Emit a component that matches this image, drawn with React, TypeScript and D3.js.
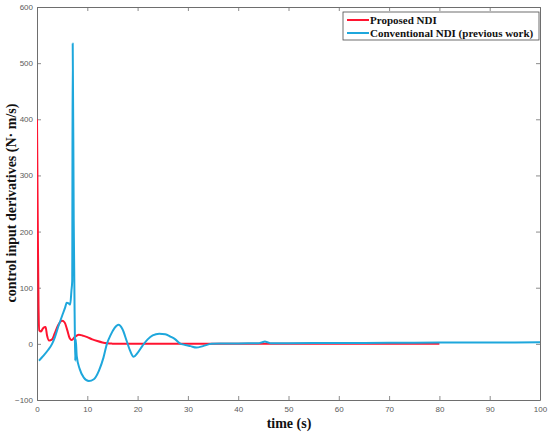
import * as d3 from "d3";
import { useEffect, useRef } from "react";

// time (s), value (N·m/s)
const proposedT = [0, 0.15, 0.3, 0.45, 0.8, 1.2, 1.7, 2.0, 2.4, 3.0, 3.5, 4.2, 5.0, 5.5, 6.0, 6.5, 6.9, 7.5, 8.3, 9.0, 10, 11, 12, 13, 14, 15, 16, 20, 30, 40, 50, 60, 70, 80];
const proposedV = [400, 220, 70, 24, 22, 28, 30, 15, 6, 8, 18, 33, 41, 38, 25, 10, 7, 12, 16, 15, 12, 8, 5, 2.5, 1, 0.4, 0.1, 0, 0, 0, 0, 0, 0, 0.2];

const conventionalT = [0.4, 1.2, 2.2, 3.0, 3.6, 4.2, 5.0, 5.6, 5.9, 6.3, 6.6, 6.85, 7.0, 7.1, 7.3, 7.5, 7.6, 7.7, 7.9, 8.5, 9.3, 10.3, 11.3, 12.3, 13.2, 13.9, 14.6, 15.4, 16.2, 17.0, 17.8, 18.5, 19.2, 20.0, 21.0, 22.0, 23.0, 24.3, 25.5, 26.5, 27.5, 28.4, 29.5, 30.5, 31.7, 33.0, 34.7, 37, 40, 44, 44.8, 45.3, 45.8, 46.5, 50, 60, 70, 80, 90, 100];
const conventionalV = [-30, -22, -11, 0, 13, 30, 50, 65, 73, 72, 70, 95, 112, 535, 220, 40, -30, 8, -22, -45, -60, -66, -63, -48, -25, 0, 15, 28, 34, 26, 6, -12, -23, -16, -3, 8, 15, 18, 17, 13, 8, 1, -2, -4, -6.5, -4, 0, 0.5, 0.8, 1, 3, 4, 3, 1.2, 1.3, 1.6, 1.9, 2.2, 2.5, 2.7];

const xTicks = [0, 10, 20, 30, 40, 50, 60, 70, 80, 90, 100];
const yTicks = [-100, 0, 100, 200, 300, 400, 500, 600];

const legendLabels = ["Proposed NDI", "Conventional NDI (previous work)"];
const lineColors = ["#ff1430", "#1ea7dc"];

const W = 550;
const H = 434;
const margin = { top: 7, right: 10, bottom: 34, left: 37 };

export default function App() {
	const ref = useRef<SVGSVGElement | null>(null);

	useEffect(() => {
		if (!ref.current) return;
		const svg = d3.select(ref.current);
		svg.selectAll("*").remove();

		const x = d3.scaleLinear().domain([0, 100]).range([margin.left, W - margin.right]);
		const y = d3.scaleLinear().domain([-100, 600]).range([H - margin.bottom, margin.top]);
		const x0 = margin.left;
		const x1 = W - margin.right;
		const y0 = H - margin.bottom;
		const y1 = margin.top;

		svg.append("rect").attr("x", 0).attr("y", 0).attr("width", W).attr("height", H).attr("fill", "white");

		const axisColor = "#6e6e6e";
		const tickFont = "Liberation Sans, Arial, sans-serif";

		// bottom & top axes (ticks inward)
		const gx = svg.append("g").attr("transform", `translate(0,${y0})`)
			.call(d3.axisBottom(x).tickValues(xTicks).tickSizeInner(-4).tickSizeOuter(0).tickPadding(6));
		const gxTop = svg.append("g").attr("transform", `translate(0,${y1})`)
			.call(d3.axisTop(x).tickValues(xTicks).tickSizeInner(-4).tickSizeOuter(0).tickFormat(() => ""));
		const gy = svg.append("g").attr("transform", `translate(${x0},0)`)
			.call(d3.axisLeft(y).tickValues(yTicks).tickSizeInner(-4).tickSizeOuter(0).tickPadding(4));
		const gyRight = svg.append("g").attr("transform", `translate(${x1},0)`)
			.call(d3.axisRight(y).tickValues(yTicks).tickSizeInner(-4).tickSizeOuter(0).tickFormat(() => ""));

		[gx, gxTop, gy, gyRight].forEach((g) => {
			g.select(".domain").attr("stroke", axisColor).attr("stroke-width", 1);
			g.selectAll(".tick line").attr("stroke", axisColor).attr("stroke-width", 0.8);
			g.selectAll("text").attr("fill", "#5a5a5a").attr("font-size", 8).attr("font-family", tickFont);
		});

		const clipId = "plot-clip";
		svg.append("clipPath").attr("id", clipId)
			.append("rect").attr("x", x0).attr("y", y1).attr("width", x1 - x0).attr("height", y0 - y1);

		const line = d3.line<[number, number]>()
			.x((d) => x(d[0]))
			.y((d) => y(d[1]))
			.curve(d3.curveMonotoneX);

		const series: [number, number][][] = [
			proposedT.map((t, i) => [t, proposedV[i]]),
			conventionalT.map((t, i) => [t, conventionalV[i]]),
		];

		svg.append("g").attr("clip-path", `url(#${clipId})`)
			.selectAll("path")
			.data(series)
			.join("path")
			.attr("fill", "none")
			.attr("stroke", (_, i) => lineColors[i])
			.attr("stroke-width", 2)
			.attr("stroke-linejoin", "round")
			.attr("d", (d) => line(d));

		// legend
		const lg = svg.append("g");
		lg.append("rect").attr("x", 343).attr("y", 12).attr("width", 196).attr("height", 28)
			.attr("fill", "white").attr("stroke", "#4a4a4a").attr("stroke-width", 0.8);
		legendLabels.forEach((label, i) => {
			const ly = 20 + i * 13;
			lg.append("line").attr("x1", 347).attr("x2", 369).attr("y1", ly).attr("y2", ly)
				.attr("stroke", lineColors[i]).attr("stroke-width", 2);
			lg.append("text").attr("x", 370).attr("y", ly + 4).text(label)
				.attr("font-family", "Liberation Serif, Times New Roman, serif")
				.attr("font-weight", "bold").attr("font-size", 11).attr("fill", "#111");
		});

		// axis labels
		svg.append("text").attr("x", 289).attr("y", 428).attr("text-anchor", "middle")
			.attr("font-family", "Liberation Serif, Times New Roman, serif")
			.attr("font-weight", "bold").attr("font-size", 14).attr("fill", "#111")
			.text("time (s)");
		svg.append("text").attr("transform", `translate(16,203) rotate(-90)`).attr("text-anchor", "middle")
			.attr("font-family", "Liberation Serif, Times New Roman, serif")
			.attr("font-weight", "bold").attr("font-size", 14).attr("fill", "#111")
			.text("control input derivatives (N· m/s)");
	}, []);

	return (
		<svg
			ref={ref}
			width={W}
			height={H}
			style={{ position: "absolute", left: 0, top: 0, display: "block" }}
		></svg>
	);
}
